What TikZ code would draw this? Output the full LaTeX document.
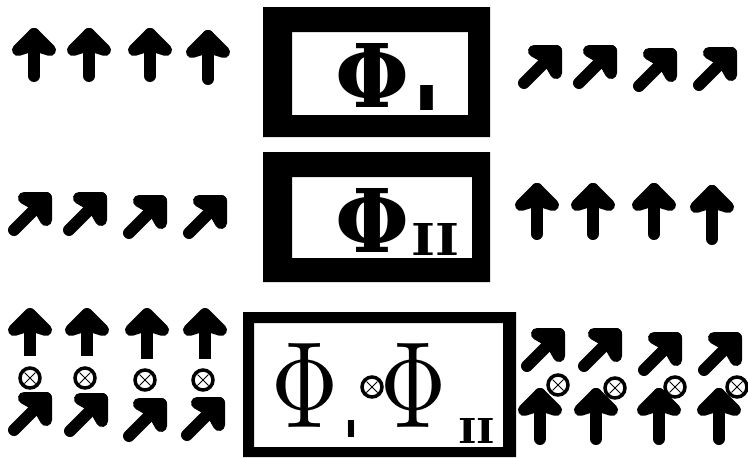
\documentclass[tikz,border=0pt]{standalone}
\usepackage{graphicx}
\usepackage{fontspec}
\newfontfamily\phifont{DejaVu Serif}
\newfontfamily\subfont{DejaVu Sans}
\tikzset{
  arr/.style={line width=12pt, line cap=round, line join=round},
  arrhead/.style={fill=black, draw=black, line width=12pt, line join=round},
  arrbutt/.style={line width=12pt, line cap=butt},
  frame/.style={fill=black, even odd rule},
  glyph/.style={inner sep=0pt, outer sep=0pt},
  otim/.style={circle, draw, line width=3.5pt, minimum size=20pt, inner sep=0pt, fill=white,
    path picture={\draw[line width=0.8pt]
      ([shift={(-5.5,-5.5)}]path picture bounding box.center) -- ([shift={(5.5,5.5)}]path picture bounding box.center)
      ([shift={(-5.5,5.5)}]path picture bounding box.center) -- ([shift={(5.5,-5.5)}]path picture bounding box.center);}},
}
\newcommand\UpHead[2]{%
  \draw[arrhead] (#1-16,#2+16) -- (#1,#2) -- (#1+16,#2+16) -- (#1,#2+11) -- cycle;}
\newcommand\UpArr[3]{%
  \UpHead{#1}{#2}
  \draw[arr] (#1,#2) -- (#1,#3);}
\newcommand\UpArrStub[3]{%
  \UpHead{#1}{#2}
  \draw[arrbutt] (#1,#2+10) -- (#1,#3);}
\newcommand\NEArr[2]{%
  \draw[arrhead] (#1-22,#2) -- (#1,#2) -- (#1,#2+22) -- (#1-8,#2+8) -- cycle;
  \draw[arr] (#1,#2) -- (#1-32,#2+32);}
\begin{document}
\begin{tikzpicture}[x=1pt,y=-1pt]
\useasboundingbox (0,0) rectangle (748,458);
\fill[white] (0,0) rectangle (748,458);

% ---------- row 1 ----------
\UpArr{34}{34}{76}
\UpArr{89}{34}{76}
\UpArr{150}{34}{76}
\UpArr{208}{36}{79}
\fill[frame] (263,7) rectangle (490,137) (292,32) rectangle (468,115);
\node[glyph] (phiA) at (372.5,75) {\resizebox{74pt}{64pt}{\phifont\bfseries Φ}};
\node[glyph] (subA) at (426.5,97.5) {\resizebox{25pt}{25pt}{\subfont\bfseries I}};
\NEArr{556}{51}
\NEArr{611}{51}
\NEArr{671}{54}
\NEArr{731}{53}

% ---------- row 2 ----------
\NEArr{46}{198}
\NEArr{101}{198}
\NEArr{161}{201}
\NEArr{221}{201}
\fill[frame] (263,152) rectangle (490,282) (292,177) rectangle (472,258);
\node[glyph] (phiB) at (372.5,220) {\resizebox{74pt}{64pt}{\phifont\bfseries Φ}};
\node[glyph] (subB) at (435,239) {\resizebox{48pt}{32pt}{\phifont\bfseries II}};
\UpArr{537}{189}{234}
\UpArr{593}{189}{234}
\UpArr{654}{189}{234}
\UpArr{712}{191}{239}

% ---------- row 3, left ----------
\UpArrStub{30}{314}{356}
\UpArrStub{87}{314}{356}
\UpArrStub{147}{314}{359}
\UpArrStub{205}{314}{359}
\NEArr{46}{398}
\NEArr{102}{399}
\NEArr{161}{404}
\NEArr{219}{403}
\node[otim] (oL1) at (30,378) {};
\node[otim] (oL2) at (85,378) {};
\node[otim] (oL3) at (145,380) {};
\node[otim] (oL4) at (203,380) {};

% ---------- row 3, box ----------
\fill[frame] (243,312) rectangle (516,457) (254,323) rectangle (503,447);
\node[glyph] (phiC) at (305,385) {\resizebox{67pt}{84pt}{$\Phi$}};
\node[glyph] (subC) at (351,428.5) {\resizebox{12pt}{17pt}{\subfont\bfseries I}};
\node[otim] (oM) at (372,387) {};
\node[glyph] (phiD) at (413.5,385) {\resizebox{66pt}{84pt}{$\Phi$}};
\node[glyph] (subD) at (476.5,430.5) {\resizebox{37pt}{25pt}{\phifont\bfseries II}};

% ---------- row 3, right ----------
\NEArr{559}{334}
\NEArr{616}{334}
\NEArr{676}{338}
\NEArr{736}{338}
\UpArr{540}{394}{439}
\UpArr{596}{394}{439}
\UpArr{659}{394}{439}
\UpArr{719}{394}{439}
\node[otim] (oR1) at (558,385) {};
\node[otim] (oR2) at (615,388) {};
\node[otim] (oR3) at (675,387) {};
\node[otim] (oR4) at (737,387) {};
\end{tikzpicture}
\end{document}
